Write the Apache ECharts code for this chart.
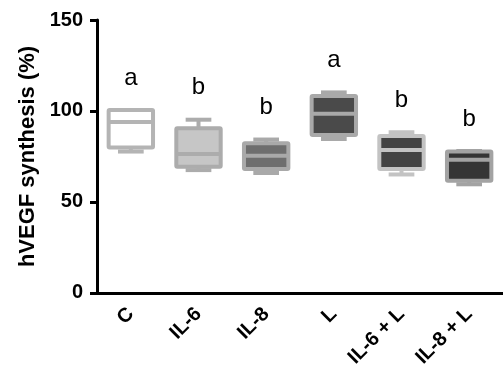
<!DOCTYPE html>
<html>
<head>
<meta charset="utf-8">
<script src="https://cdn.jsdelivr.net/npm/echarts@6/dist/echarts.min.js"></script>
<style>
html,body{margin:0;padding:0;background:#fff;}
#chart{width:503px;height:370px;}
</style>
</head>
<body>
<div id="chart"></div>
<script>
// ---- data ----
const categories = ['C', 'IL-6', 'IL-8', 'L', 'IL-6 + L', 'IL-8 + L'];
const mins    = [77.7, 67.5, 65.9, 84.6, 65.1, 59.7];
const q1s     = [79.9, 69.4, 68.1, 86.8, 68.1, 61.7];
const medians = [93.9, 76.3, 75.4, 98.5, 78.6, 73.2];
const q3s     = [100.5, 90.5, 82.3, 108.2, 86.2, 77.7];
const maxs    = [100.5, 95.2, 84.3, 110.2, 88.3, 78.0];
const letters = ['a', 'b', 'b', 'a', 'b', 'b'];
const yTicks  = [0, 50, 100, 150];

// ---- styles ----
const fillColors   = ['#ffffff', '#c6c6c6', '#6e6e6e', '#4a4a4a', '#434343', '#353535'];
const strokeColors = ['#b4b4b4', '#acacac', '#a9a9a9', '#a9a9a9', '#c3c3c3', '#a3a3a3'];

const rows = categories.map((c, i) => [i, mins[i], q1s[i], medians[i], q3s[i], maxs[i]]);

function renderItem(params, api) {
  const i = api.value(0);
  const x = api.coord([i, 0])[0];
  const yMin = api.coord([i, api.value(1)])[1];
  const yQ1 = api.coord([i, api.value(2)])[1];
  const yMed = api.coord([i, api.value(3)])[1];
  const yQ3 = api.coord([i, api.value(4)])[1];
  const yMax = api.coord([i, api.value(5)])[1];
  const band = api.size([1, 0])[0];
  const hw = band * 0.328;
  const cw = band * 0.19;
  const sc = strokeColors[i];
  const lw = 4;
  const line = (x1, y1, x2, y2) => ({
    type: 'line', shape: {x1, y1, x2, y2},
    style: {stroke: sc, lineWidth: lw, lineCap: 'butt'}
  });
  return {
    type: 'group',
    children: [
      line(x, yMax, x, yQ3),
      line(x, yQ1, x, yMin),
      line(x - cw, yMax, x + cw, yMax),
      line(x - cw, yMin, x + cw, yMin),
      {type: 'rect', shape: {x: x - hw, y: yQ3, width: 2 * hw, height: yQ1 - yQ3, r: 1},
       style: {fill: fillColors[i], stroke: sc, lineWidth: lw, lineJoin: 'round'}},
      line(x - hw, yMed, x + hw, yMed),
      {type: 'text', style: {x: x, y: yMax - 32, text: letters[i], fill: '#000',
        font: '24px "Liberation Sans", Arial, sans-serif', align: 'center', verticalAlign: 'middle'}}
    ]
  };
}

const chart = echarts.init(document.getElementById('chart'), null, {renderer: 'canvas'});
chart.setOption({
  animation: false,
  backgroundColor: '#ffffff',
  grid: {left: 97, right: -7, top: 20, bottom: 76, containLabel: false},
  xAxis: {
    type: 'category',
    data: categories,
    boundaryGap: true,
    axisLine: {lineStyle: {color: '#000', width: 3}},
    axisTick: {alignWithLabel: true, length: 7, lineStyle: {color: '#000', width: 3}},
    axisLabel: {rotate: 45, margin: 18, color: '#000', fontWeight: 'bold', fontSize: 20,
      fontFamily: '"Liberation Sans", Arial, sans-serif', interval: 0}
  },
  yAxis: {
    type: 'value',
    min: yTicks[0], max: yTicks[yTicks.length - 1], interval: 50,
    name: 'hVEGF synthesis (%)',
    nameLocation: 'middle', nameRotate: 90, nameGap: 56,
    nameTextStyle: {color: '#000', fontWeight: 'bold', fontSize: 22,
      fontFamily: '"Liberation Sans", Arial, sans-serif'},
    splitLine: {show: false},
    axisLine: {show: true, lineStyle: {color: '#000', width: 3}},
    axisTick: {show: true, length: 7, lineStyle: {color: '#000', width: 3}},
    axisLabel: {color: '#000', fontWeight: 'bold', fontSize: 20, margin: 14,
      fontFamily: '"Liberation Sans", Arial, sans-serif'}
  },
  series: [{
    type: 'custom',
    renderItem: renderItem,
    encode: {x: 0, y: [1, 2, 3, 4, 5]},
    data: rows,
    clip: false
  }]
});
</script>
</body>
</html>
